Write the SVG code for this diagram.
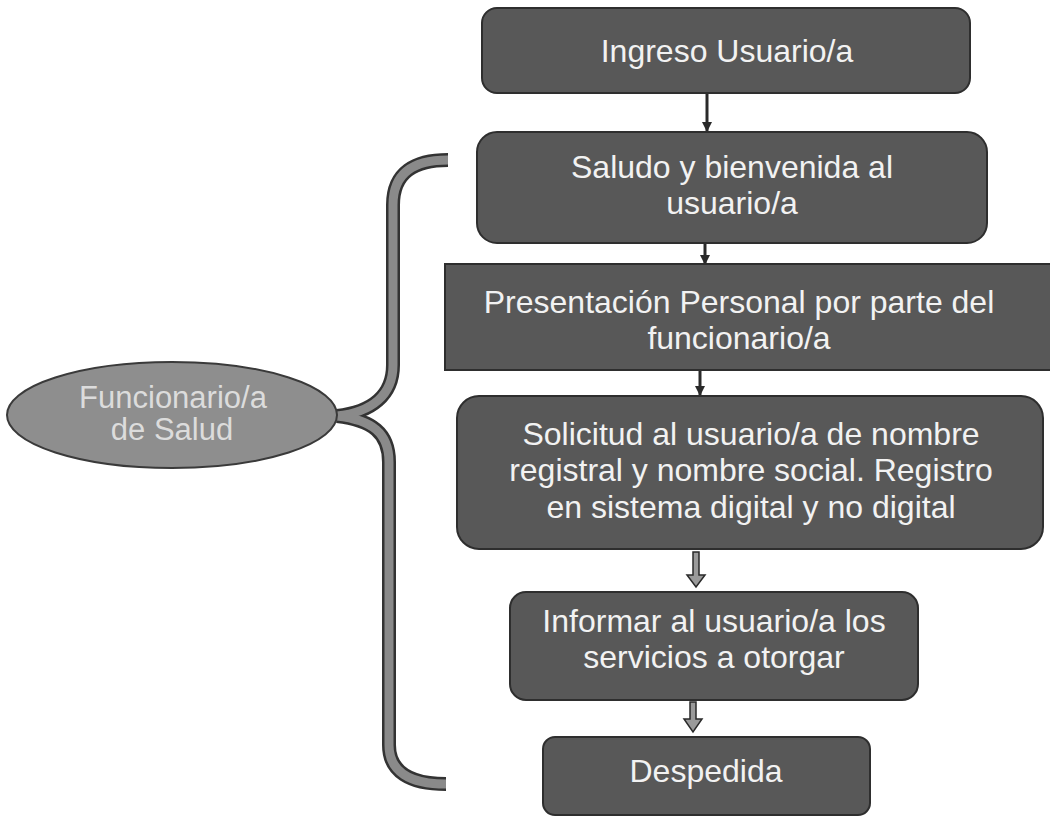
<svg xmlns="http://www.w3.org/2000/svg" width="1050" height="817" viewBox="0 0 1050 817">
<style>
.box{fill:#585858;stroke:#2e2e2e;stroke-width:2}
.lbl{font-family:"Liberation Sans",Arial,sans-serif;font-size:32px;fill:#f2f2f2;text-anchor:middle}
.ell{fill:#8e8e8e;stroke:#3a3a3a;stroke-width:2}
.elbl{font-family:"Liberation Sans",Arial,sans-serif;font-size:31px;fill:#dcdcdc;text-anchor:middle}
.line{stroke:#2a2a2a;stroke-width:3;fill:none}
.blk{fill:#9a9a9a;stroke:#2a2a2a;stroke-width:1.5}
.braceO{fill:none;stroke:#333;stroke-width:14;stroke-linecap:butt}
.braceI{fill:none;stroke:#8a8a8a;stroke-width:9;stroke-linecap:butt}
</style>
<defs>
<marker id="ah" viewBox="0 0 10 10" refX="9" refY="5" markerWidth="3.5" markerHeight="3.5" orient="auto">
<path d="M0,0 L10,5 L0,10 z" fill="#2a2a2a"/>
</marker>
</defs>
<rect width="1050" height="817" fill="#ffffff"/>

<g id="brace">
<path class="braceO" d="M448,160 C415,160 393,172 393,205 L393,365 C393,395 372,412 337,416 C372,420 389,433 389,462 L389,745 C389,772 410,784 446,784"/>
<path class="braceI" d="M448,160 C415,160 393,172 393,205 L393,365 C393,395 372,412 337,416 C372,420 389,433 389,462 L389,745 C389,772 410,784 446,784"/>
</g>

<g id="connectors">
<line class="line" x1="707" y1="93" x2="707" y2="131" marker-end="url(#ah)"/>
<line class="line" x1="705" y1="244" x2="705" y2="264" marker-end="url(#ah)"/>
<line class="line" x1="700" y1="371" x2="700" y2="395" marker-end="url(#ah)"/>
<path class="blk" d="M693,552 L699,552 L699,575 L705,575 L696,587 L687,575 L693,575 z"/>
<path class="blk" d="M690,702 L696,702 L696,719 L702,719 L693,732 L684,719 L690,719 z"/>
</g>

<g id="n-funcionario">
<ellipse class="ell" cx="172" cy="415" rx="165" ry="53"/>
<text class="elbl" x="173" y="408">Funcionario/a</text>
<text class="elbl" x="172" y="440">de Salud</text>
</g>

<g id="n-ingreso">
<rect class="box" x="482" y="8" width="488" height="85" rx="15"/>
<text class="lbl" x="727" y="62">Ingreso Usuario/a</text>
</g>

<g id="n-saludo">
<rect class="box" x="477" y="132" width="510" height="111" rx="20"/>
<text class="lbl" x="732" y="178">Saludo y bienvenida al</text>
<text class="lbl" x="732" y="214">usuario/a</text>
</g>

<g id="n-presentacion">
<rect class="box" x="445" y="264" width="610" height="106"/>
<text class="lbl" x="739" y="313">Presentación Personal por parte del</text>
<text class="lbl" x="739" y="349">funcionario/a</text>
</g>

<g id="n-solicitud">
<rect class="box" x="457" y="396" width="586" height="153" rx="22"/>
<text class="lbl" x="751" y="445">Solicitud al usuario/a de nombre</text>
<text class="lbl" x="751" y="481">registral y nombre social. Registro</text>
<text class="lbl" x="751" y="518">en sistema digital y no digital</text>
</g>

<g id="n-informar">
<rect class="box" x="510" y="592" width="408" height="108" rx="16"/>
<text class="lbl" x="714" y="632">Informar al usuario/a los</text>
<text class="lbl" x="714" y="668">servicios a otorgar</text>
</g>

<g id="n-despedida">
<rect class="box" x="543" y="737" width="327" height="78" rx="12"/>
<text class="lbl" x="706" y="782">Despedida</text>
</g>
</svg>
